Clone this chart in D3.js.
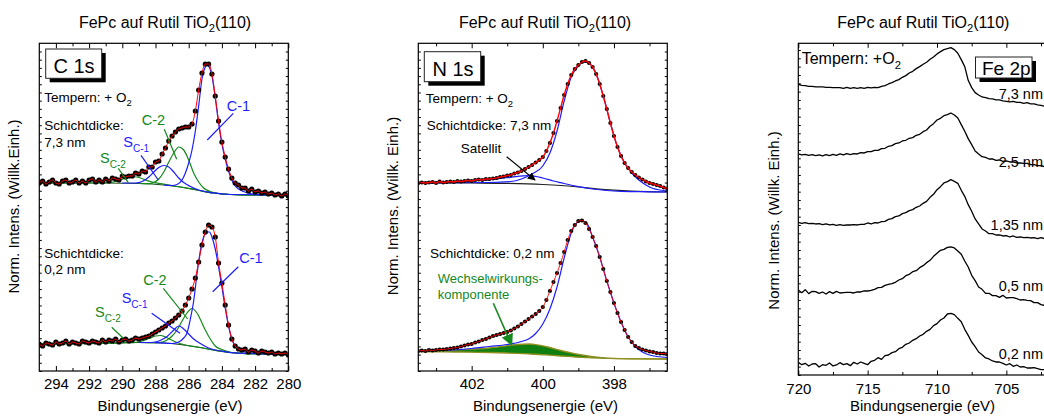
<!DOCTYPE html>
<html><head><meta charset="utf-8">
<script src="https://cdn.jsdelivr.net/npm/d3@7"></script>
<style>
html,body{margin:0;padding:0;background:#fff;}
svg{display:block;font-family:"Liberation Sans",Arial,Helvetica,sans-serif;}
</style></head><body>
<svg id="chart" width="1044" height="417"></svg>
<script>
// ===================== DATA =====================
// C 1s (binding energy grid 295.0 -> 280.0 eV, step 0.2)
const c1sEnergy = d3.range(76).map(i => +(295 - 0.2 * i).toFixed(1));
const c1sThick = [ // 7,3 nm
  188,190,187,189,191,188,187,190,191,188,
  189,191,188,190,188,191,192,189,191,189,
  192,190,193,192,191,195,194,195,195,198,
  197,200,199,204,204,209,210,217,223,230,
  235,239,242,243,244,244,247,260,281,298,
  307,307,297,275,250,229,214,202,193,188,
  186,183,183,180,182,179,180,178,179,177,
  178,176,177,175,177,175];
const c1sThin = [ // 0,2 nm
  27,25,28,27,26,29,27,28,30,27,
  29,28,27,30,29,28,30,29,28,31,
  29,31,30,32,29,31,32,30,31,33,
  32,33,34,35,37,39,41,43,45,48,
  50,53,56,60,66,73,82,93,109,126,
  139,146,144,134,108,88,66,46,32,25,
  22,21,22,19,21,20,18,20,19,18,
  19,17,18,17,18,16];
// fit components [eV, intensity]
const c1sThickBg  = [[295,188],[291,188],[289,187.5],[287.5,186],[286.5,184],[285.5,181],[284.5,178],[283.5,176.5],[282,176],[280,176]];
const c1sThickC1  = [[287.5,186],[287.0,185.5],[286.7,186.5],[286.4,191],[286.2,198],[286.0,208],[285.8,221],[285.6,240],[285.4,265],[285.2,292],[285.0,304],[284.9,306],[284.8,305],[284.6,295],[284.4,273],[284.2,248],[284.0,227],[283.8,212],[283.6,200],[283.4,191],[283.2,185],[283.0,182],[282.7,179.5],[282.3,177.5],[281.5,176.3],[280,176]];
const c1sThickC2  = [[289,187.5],[288.4,187.3],[288.1,188.5],[287.8,192],[287.5,199],[287.2,209],[286.9,218],[286.6,224],[286.3,221],[286.0,211],[285.7,198],[285.4,189],[285.1,183],[284.7,179.5],[284.2,177.5],[283.5,176.5],[282,176],[280,176]];
const c1sThickSC1 = [[290,188],[289.2,188],[288.8,189.5],[288.4,194],[288.1,199],[287.8,203.5],[287.5,205.5],[287.2,204],[286.9,199],[286.6,193],[286.3,188.5],[285.9,184.5],[285.4,181],[284.6,178.3],[283.5,176.5],[280,176]];
const c1sThickSC2 = [[295,188],[291.4,188],[290.7,188.6],[290.2,190.5],[289.8,193],[289.4,194.5],[289.0,193.5],[288.6,191],[288.2,188.8],[287.6,187.2],[286.5,184],[285.5,181],[284.5,178],[283.5,176.5],[282,176],[280,176]];
const c1sThinBg   = [[295,27],[291,28],[289,28.5],[287.5,28],[286.5,26.5],[285.5,24],[284.5,21],[283.5,18.5],[282.5,17.3],[280,17]];
const c1sThinC1   = [[288,28.3],[287,27.5],[286.6,29],[286.3,33],[286.1,38],[285.9,52],[285.7,70],[285.5,97],[285.3,120],[285.1,134],[284.9,139],[284.75,139],[284.6,134],[284.4,122],[284.2,104],[284.0,84],[283.8,63],[283.6,45],[283.4,32],[283.2,25],[283.0,21.5],[282.6,19],[282,17.5],[280,17]];
const c1sThinC2   = [[289,28.5],[288,28.3],[287.6,29],[287.3,31],[287.0,35],[286.7,41],[286.4,50],[286.1,58],[285.8,62.5],[285.5,58],[285.2,48],[285.0,41],[284.7,32],[284.4,25],[284.0,21.5],[283.4,18.5],[282.5,17.3],[280,17]];
const c1sThinSC1  = [[289,28.5],[288.3,28.5],[287.9,29.5],[287.6,31.5],[287.3,34.5],[286.9,41],[286.6,45],[286.3,42],[286.0,37],[285.7,32],[285.3,27.5],[284.8,23],[284,19.8],[283,17.8],[280,17]];
const c1sThinSC2  = [[295,27],[290,28.2],[289.2,28.6],[288.8,30],[288.4,32.5],[288.0,35],[287.7,35.5],[287.4,34],[287.1,31.5],[286.7,28.5],[286.2,26],[285.5,24],[284.5,21],[283.5,18.5],[282.5,17.3],[280,17]];

// N 1s (grid 403.5 -> 396.5 eV, step 0.1)
const n1sEnergy = d3.range(71).map(i => +(403.5 - 0.1 * i).toFixed(1));
const n1sThick = [ // 7,3 nm
  188,188.5,188,188.5,189,188,189.5,188.5,189,189.5,
  189,190,189.5,190,190.5,190,191,191.5,191,192,
  192,192.5,193,194,194.5,195.5,196,197.5,198.5,200,
  202,204,206,208.5,211,214,220,228,238,250,
  263,276,287,296,302,306,309,310,308,304,
  297,287,275,262,248,235,224,215,208,203,
  199,196,193.5,191.5,189.5,188,187,186,185,183.5,
  182.5];
const n1sThin = [ // 0,2 nm
  20,20.5,20,21,20.5,21,21.5,21.5,22,22.5,
  23,23.5,24.5,25.5,26.5,27,28.5,29.5,31,32,
  33.5,35,36,37,38,39,40.5,42.5,44.5,47,
  49.5,52,54.5,57,60,64,71,80,89,98,
  108,119,131,140,146,150,150.5,148,142,134,
  125,114,102,90,79,68,58,49,41,34,
  29,25,23,21.5,20.5,19.5,19,18,17.5,17.5,
  17];
const n1sThickBg   = [[403.5,188.3],[402,188],[401,187.6],[400,186.5],[399.5,185.5],[399,184],[398.5,182.2],[398,180.8],[397.5,179.8],[396.5,179]];
const n1sThickMain = [[403.5,188],[401.5,188.5],[400.9,189.5],[400.6,192],[400.3,197],[400.0,205],[399.8,218],[399.6,240],[399.4,270],[399.2,294],[399.0,305],[398.85,309],[398.7,307.5],[398.5,297],[398.3,275],[398.1,248],[397.9,224],[397.7,208],[397.5,198],[397.3,191],[397.1,186],[396.9,182.5],[396.7,181],[396.5,180]];
const n1sThickSat  = [[403.5,188.3],[402.5,189.5],[401.8,190.5],[401.4,191.7],[400.9,193.7],[400.4,195.3],[400.0,193],[399.7,190],[399.5,188.3],[399.0,184.3],[398.6,182],[398.2,180.5],[397.8,179.7],[397,179.2],[396.5,179]];
const n1sThinMain  = [[403.5,20],[402.5,21],[402,22.5],[401.5,24.5],[401,26.5],[400.6,29.5],[400.4,32],[400.2,37.5],[400,47],[399.8,62],[399.6,84],[399.4,113],[399.2,138],[399.05,148],[398.9,150],[398.75,147],[398.6,134],[398.4,114],[398.2,90],[398.0,68],[397.8,49],[397.6,34],[397.4,24.5],[397.2,19],[397,16],[396.5,13.5]];
const n1sThinCompE   = [403.5,403.0,402.5,402.0,401.5,401.0,400.7,400.4,400.1,399.8,399.5,399.2,398.9,398.6,398.2,397.8,397.2,396.5];
const n1sThinCompBg  = [19.3,19.2,19.0,18.8,18.5,18.0,17.6,17.1,16.5,15.8,15.0,14.3,13.6,13.1,12.6,12.3,12.1,12.0];
const n1sThinCompTop = [20.0,20.3,20.9,21.8,23.0,25.3,26.5,27.0,25.8,23.5,20.5,18.0,16.0,14.3,12.9,12.4,12.1,12.0];

// Fe 2p (grid 720 -> 702 eV, step 0.25)
const fe2pEnergy = d3.range(73).map(i => 720 - 0.25 * i);
const fe2pLabels = ["7,3 nm", "2,5 nm", "1,35 nm", "0,5 nm", "0,2 nm"];
const fe2p_7_3 = [
  872,869,868,866,866,864,864,864, 863,863,862,862,862,860,863,860,
  862,860,862,860,863,861,863,862, 866,868,873,877,882,886,893,898,
  906,911,919,925,932,938,947,954, 963,970,976,979,982,976,965,946,
  925,884,862,847,840,834,832,829, 828,825,825,822,821,819,821,818,
  818,815,817,813,813,810,809,806, 805];
const fe2p_2_5 = [
  663,660,662,659,661,658,660,657, 661,658,662,659,663,660,664,661,
  664,663,667,666,670,670,674,674, 679,680,686,688,694,696,702,704,
  710,712,719,722,730,735,746,754, 765,770,778,781,786,780,771,751,
  731,709,691,672,663,655,653,648, 648,644,645,641,642,639,639,636,
  636,635,635,631,631,628,628,625, 625];
const fe2p_1_35 = [
  458,455,457,454,455,453,454,451, 453,450,452,449,451,449,450,450,
  451,450,452,452,456,453,457,456, 460,461,467,469,475,477,484,487,
  493,496,503,507,515,521,533,542, 556,565,576,580,586,581,575,554,
  536,511,491,468,453,438,432,424, 424,420,420,417,418,414,417,413,
  414,412,413,411,412,409,412,409, 409];
const fe2p_0_5 = [
  255,247,256,244,251,250,245,249, 243,250,245,251,246,247,248,248,
  246,249,249,252,252,254,257,262, 263,269,272,274,278,285,289,298,
  302,310,313,322,328,337,344,356, 365,374,377,383,384,381,372,362,
  342,324,299,283,264,257,245,245, 238,238,233,239,231,232,232,229,
  225,226,224,223,217,217,211,209, 204];
const fe2p_0_2 = [
  38,31,35,27,33,34,24,31, 29,36,27,30,37,31,34,28,
  38,33,39,35,31,41,44,52, 47,58,60,67,70,79,83,92,
  96,104,109,117,122,131,137,148, 154,165,171,183,185,181,170,160,
  137,119,99,85,69,61,51,48, 42,39,39,35,30,34,26,30,
  24,25,21,21,22,19,16,16, 13];

// tick labels
const c1sTicks = [294,292,290,288,286,284,282,280];
const c1sMinor = [293,291,289,287,285,283,281];
const n1sTicks = [402,400,398];
const n1sMinor = [403,401,399,397];
const fe2pTicks = [720,715,710,705];
const fe2pMinor = [717.5,712.5,707.5,702.5];

// ===================== DRAWING =====================
const BLUE = '#1c1cff', GREEN = '#14891c', RED = '#ff0000';
const svg = d3.select('#chart');
svg.append('rect').attr('width',1044).attr('height',417).attr('fill','#fff');
const defs = svg.append('defs');
function marker(id, color, size){
  defs.append('marker').attr('id',id).attr('viewBox','0 0 10 10').attr('refX',9).attr('refY',5)
    .attr('markerWidth',size).attr('markerHeight',size).attr('markerUnits','userSpaceOnUse').attr('orient','auto')
    .append('path').attr('d','M0,0 L10,5 L0,10 z').attr('fill',color);
}
marker('arrBlack','#000',8);
marker('arrGreen',GREEN,12);

function addText(g, x, y, parts, opt = {}) {
  const size = opt.size || 14, shift = opt.subShift || 4;
  const t = g.append('text').attr('x',x).attr('y',y).attr('font-size',size)
    .attr('fill',opt.color || '#000').attr('text-anchor',opt.anchor || 'start');
  if (opt.transform) t.attr('transform',opt.transform);
  let shifted = 0;
  parts.forEach(p => {
    const s = typeof p === 'string' ? {t:p} : p;
    const ts = t.append('tspan').text(s.t);
    if (s.sub) { ts.attr('font-size', s.size || size*0.7).attr('dy', shift - shifted); shifted = shift; }
    else if (shifted) { ts.attr('dy', -shifted); shifted = 0; }
  });
  return t;
}

function makePanel(o){
  const x = d3.scaleLinear().domain(o.xDomain).range([o.left,o.right]);
  const y = d3.scaleLinear().domain([0,o.yMax]).range([o.bottom,o.top]);
  const g = svg.append('g');
  const clipId = 'clip-'+o.id;
  defs.append('clipPath').attr('id',clipId).append('rect')
    .attr('x',o.left).attr('y',o.top).attr('width',o.right-o.left).attr('height',o.bottom-o.top);
  const plot = g.append('g').attr('clip-path',`url(#${clipId})`);
  const axes = g.append('g');
  const ax = (gen, tr) => {
    const a = axes.append('g').attr('transform',tr).call(gen);
    a.select('.domain').remove();
    a.selectAll('line').attr('stroke','#000').attr('stroke-width',1);
    a.selectAll('text').attr('font-size',15).attr('font-family','"Liberation Sans",Arial,sans-serif').attr('fill','#000');
    return a;
  };
  ax(d3.axisBottom(x).tickValues(o.major).tickSize(-o.majorLen).tickPadding(o.pad).tickFormat(d3.format('d')), `translate(0,${o.bottom})`);
  ax(d3.axisBottom(x).tickValues(o.minor).tickSize(-o.minorLen).tickFormat(''), `translate(0,${o.bottom})`);
  ax(d3.axisTop(x).tickValues(o.major).tickSize(-o.majorLen).tickFormat(''), `translate(0,${o.top})`);
  ax(d3.axisTop(x).tickValues(o.minor).tickSize(-o.minorLen).tickFormat(''), `translate(0,${o.top})`);
  ax(d3.axisLeft(y).tickValues(o.yTicks).tickSize(-2.5).tickFormat(''), `translate(${o.left},0)`);
  ax(d3.axisRight(y).tickValues(o.yTicks).tickSize(-2.5).tickFormat(''), `translate(${o.right},0)`);
  axes.append('rect').attr('x',o.left).attr('y',o.top).attr('width',o.right-o.left).attr('height',o.bottom-o.top)
    .attr('fill','none').attr('stroke','#000').attr('stroke-width',1.2);
  // title / axis labels
  addText(g, o.titleX, 28, ['FePc auf Rutil TiO', {t:'2', sub:true}, '(110)'], {size:16, anchor:'middle'});
  addText(g, o.xLabelX, 411, ['Bindungsenergie (eV)'], {size:15, anchor:'middle'});
  addText(g, 0, 0, [o.yLabel], {size:15, anchor:'middle', transform:`translate(${o.yLabelX},${o.yLabelY}) rotate(-90)`});
  return {x, y, plot, g};
}

const lineOf = (P, curve) => d3.line().x(d => P.x(d[0])).y(d => P.y(d[1])).curve(curve || d3.curveMonotoneX);
const zip = (e, v) => e.map((d,i) => [d, v[i]]);
function comp(P, data, color, w){
  P.plot.append('path').datum(data).attr('d', lineOf(P)).attr('fill','none').attr('stroke',color).attr('stroke-width',w||1.2);
}
function dots(P, data, r){
  P.plot.append('g').selectAll('circle').data(data).join('circle')
    .attr('cx', d => P.x(d[0])).attr('cy', d => P.y(d[1])).attr('r', r).attr('fill','#000');
}
function box(g, x, y, w, h, label, size, tx, ty){
  g.append('rect').attr('x',x+4).attr('y',y+4).attr('width',w).attr('height',h).attr('fill','#000');
  g.append('rect').attr('x',x).attr('y',y).attr('width',w).attr('height',h).attr('fill','#fff').attr('stroke','#222').attr('stroke-width',1);
  addText(g, tx, ty, [label], {size});
}
function leader(g, x1, y1, x2, y2, color, mk){
  const l = g.append('line').attr('x1',x1).attr('y1',y1).attr('x2',x2).attr('y2',y2).attr('stroke',color).attr('stroke-width',mk==='arrGreen'?1.6:1.2);
  if (mk) l.attr('marker-end',`url(#${mk})`);
}

// ---------- Panel 1: C 1s ----------
const yTicks1 = d3.range(0, 327.7, 327.7/40);
const P1 = makePanel({id:'c1s', xDomain:[295,280], left:39.3, right:288.3, top:43.3, bottom:371, yMax:327.7,
  major:c1sTicks, minor:c1sMinor, majorLen:5, minorLen:3, pad:7, yTicks:yTicks1,
  titleX:165, xLabelX:170, yLabel:'Norm. Intens. (Willk.Einh.)', yLabelX:18.5, yLabelY:206.5});
[[c1sThickBg,'#1b4d1b'],[c1sThickSC2,GREEN],[c1sThickC2,GREEN],[c1sThickSC1,BLUE],[c1sThickC1,BLUE],
 [c1sThinBg,'#1b3d1b'],[c1sThinSC2,GREEN],[c1sThinC2,GREEN],[c1sThinSC1,BLUE],[c1sThinC1,BLUE]]
  .forEach(([d,c]) => comp(P1, d, c));
dots(P1, zip(c1sEnergy, c1sThick), 2.6);
dots(P1, zip(c1sEnergy, c1sThin), 2.6);
comp(P1, zip(c1sEnergy, c1sThick), RED, 1);
comp(P1, zip(c1sEnergy, c1sThin), RED, 1);
box(P1.g, 45.7, 49, 56, 29.3, 'C 1s', 20, 53.5, 72.5);
addText(P1.g, 44.3, 101.7, ['Tempern: + O', {t:'2', sub:true}], {size:13.5});
addText(P1.g, 44.3, 130, ['Schichtdicke:'], {size:13.5});
addText(P1.g, 44.3, 146.7, ['7,3 nm'], {size:13.5});
addText(P1.g, 44.3, 257.7, ['Schichtdicke:'], {size:13.5});
addText(P1.g, 44.3, 274, ['0,2 nm'], {size:13.5});
// component labels
addText(P1.g, 226.7, 111, ['C-1'], {size:14.5, color:BLUE});
addText(P1.g, 141.7, 124.5, ['C-2'], {size:14.5, color:GREEN});
addText(P1.g, 123.3, 146.7, ['S', {t:'C-1', sub:true, size:10}], {size:14.5, color:BLUE, subShift:5});
addText(P1.g, 100, 163.3, ['S', {t:'C-2', sub:true, size:10}], {size:14.5, color:GREEN, subShift:5});
leader(P1.g, 233.3,113.3, 207.3,140, BLUE);
leader(P1.g, 164.3,129.3, 176.7,159.3, GREEN);
leader(P1.g, 141,155.3, 158.3,180, BLUE);
leader(P1.g, 118.3,168.3, 128.3,182.7, GREEN);
addText(P1.g, 239.3, 263.3, ['C-1'], {size:14.5, color:BLUE});
addText(P1.g, 143.3, 285, ['C-2'], {size:14.5, color:GREEN});
addText(P1.g, 121.7, 303.3, ['S', {t:'C-1', sub:true, size:10}], {size:14.5, color:BLUE, subShift:5});
addText(P1.g, 95, 317.3, ['S', {t:'C-2', sub:true, size:10}], {size:14.5, color:GREEN, subShift:5});
leader(P1.g, 238.3,266.7, 212.7,291.7, BLUE);
leader(P1.g, 163.3,288.3, 187.7,319, GREEN);
leader(P1.g, 151.7,313.3, 180,333.3, BLUE);
leader(P1.g, 111.7,327.3, 123.3,338.3, GREEN);

// ---------- Panel 2: N 1s ----------
const P2 = makePanel({id:'n1s', xDomain:[403.5,396.5], left:418.3, right:667.3, top:43.3, bottom:371, yMax:327.7,
  major:n1sTicks, minor:n1sMinor, majorLen:5, minorLen:3, pad:7, yTicks:yTicks1,
  titleX:545, xLabelX:545.5, yLabel:'Norm. Intens. (Willk. Einh.)', yLabelX:397.5, yLabelY:206});
// interaction component (filled)
const compPts = n1sThinCompE.map((e,i) => ({e, lo:n1sThinCompBg[i], hi:n1sThinCompTop[i]}));
P2.plot.append('path').datum(compPts)
  .attr('d', d3.area().x(d => P2.x(d.e)).y0(d => P2.y(d.lo)).y1(d => P2.y(d.hi)).curve(d3.curveMonotoneX))
  .attr('fill','#0f7f0f').attr('stroke','none');
comp(P2, zip(n1sThinCompE, n1sThinCompBg), '#8f8f20', 1.3);
comp(P2, zip(n1sThinCompE, n1sThinCompTop), '#8f8f20', 1.3);
comp(P2, n1sThinMain, BLUE);
comp(P2, n1sThickBg, '#222');
comp(P2, n1sThickSat, BLUE);
comp(P2, n1sThickMain, BLUE);
dots(P2, zip(n1sEnergy, n1sThick), 2.1);
dots(P2, zip(n1sEnergy, n1sThin), 2.1);
comp(P2, zip(n1sEnergy, n1sThick), RED, 1.4);
comp(P2, zip(n1sEnergy, n1sThin), RED, 0.9);
box(P2.g, 424.3, 51.7, 56.4, 30, 'N 1s', 20, 432.5, 75.5);
addText(P2.g, 425.7, 103.3, ['Tempern: + O', {t:'2', sub:true}], {size:13.5});
addText(P2.g, 426.7, 130, ['Schichtdicke: 7,3 nm'], {size:13.5});
addText(P2.g, 481, 152.5, ['Satellit'], {size:13.5, anchor:'middle'});
leader(P2.g, 506.7,156.7, 535,180, '#000', 'arrBlack');
addText(P2.g, 430, 257.7, ['Schichtdicke: 0,2 nm'], {size:13.5});
addText(P2.g, 437.7, 282.7, ['Wechselwirkungs-'], {size:13, color:GREEN});
addText(P2.g, 437.7, 299, ['komponente'], {size:13, color:GREEN});
leader(P2.g, 493.3,303.3, 511.7,345, GREEN, 'arrGreen');

// ---------- Panel 3: Fe 2p ----------
const P3 = makePanel({id:'fe2p', xDomain:[720,700], left:798.3, right:1075.7, top:43.3, bottom:375, yMax:995,
  major:fe2pTicks, minor:fe2pMinor, majorLen:4.5, minorLen:3, pad:8, yTicks:d3.range(0, 995, 25),
  titleX:923.3, xLabelX:922.5, yLabel:'Norm. Intens. (Willk. Einh.)', yLabelX:779, yLabelY:220.5});
const feSeries = [fe2p_7_3, fe2p_2_5, fe2p_1_35, fe2p_0_5, fe2p_0_2];
feSeries.forEach(s => {
  P3.plot.append('path').datum(zip(fe2pEnergy, s)).attr('d', lineOf(P3, d3.curveLinear))
    .attr('fill','none').attr('stroke','#000').attr('stroke-width',1.3).attr('stroke-linejoin','round');
});
const labelY = [99, 166.7, 230, 291, 359.3];
fe2pLabels.forEach((l,i) => addText(P3.g, 1043, labelY[i], [l], {size:14.5, anchor:'end'}));
addText(P3.g, 801.7, 64, ['Tempern: +O', {t:'2', sub:true}], {size:16, subShift:5});
box(P3.g, 975.5, 57, 56.5, 21, 'Fe 2p', 19, 982, 74.5);
</script>
</body></html>
